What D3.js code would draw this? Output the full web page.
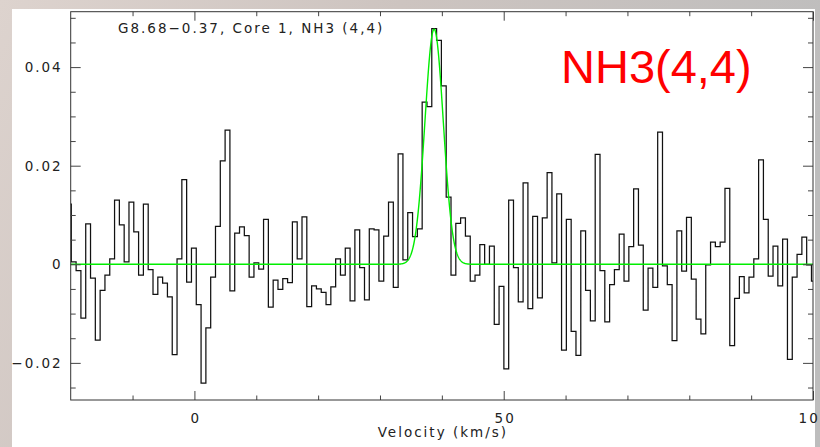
<!DOCTYPE html>
<html>
<head>
<meta charset="utf-8">
<script src="https://cdn.jsdelivr.net/npm/d3@7"></script>
<style>
  html, body { margin: 0; padding: 0; background: #fff; }
  svg { display: block; }
  .tick text { font-family: "DejaVu Sans", sans-serif; font-size: 13.5px; letter-spacing: 2px; fill: #222; }
</style>
</head>
<body>
<svg id="chart" width="820" height="447"></svg>
<script>
// ---- Data ----
const chartTitle = "G8.68\u22120.37, Core 1, NH3 (4,4)";
const lineLabel = "NH3(4,4)";
const xAxisTitle = "Velocity (km/s)";

// Spectrometer channel grid (km/s): left edge of first channel and channel width
const channelStart = -20.68;
const channelWidth = 0.777;

// Brightness per channel (156 channels)
const intensity = [
  0.0122,
  0.0005, -0.0013, -0.0109, 0.0082, -0.0028, -0.0154, -0.0053, -0.0022, 0.0011, 0.0130,
  0.0080, 0.0005, 0.0126, 0.0066, -0.0022, 0.0122, -0.0011, -0.0061, -0.0026, -0.0038,
  -0.0066, -0.0183, 0.0011, 0.0172, -0.0036, 0.0033,
  -0.0082, -0.0241, -0.0129, -0.0026, 0.0077, 0.0210, 0.0272, -0.0054, 0.0063, 0.0076,
  0.0058, -0.0026, 0.0003, -0.0010, 0.0091, -0.0087, -0.0032, -0.0051, -0.0029, -0.0037,
  0.0086, 0.0011, 0.0096, -0.0086, -0.0044, -0.0050,
  -0.0057, -0.0082, -0.0046, 0.0011, -0.0022, 0.0033, -0.0074, 0.0070, -0.0007, -0.0072,
  0.0072, 0.0070, -0.0034, 0.0057, 0.0126, -0.0047, 0.0224, 0.0009, 0.0105, 0.0056,
  0.0072, 0.0329, 0.0320, 0.0478, 0.0454, 0.0362,
  0.0136, -0.0022, 0.0083, 0.0094, 0.0057, -0.0034, -0.0022, 0.0040, 0.0000, 0.0037,
  -0.0122, -0.0045, -0.0212, 0.0130, -0.0007, -0.0076, 0.0165, -0.0090, 0.0097, -0.0068,
  0.0094, 0.0186, 0.0003, 0.0143, -0.0174, 0.0091,
  -0.0136, -0.0185, 0.0068, -0.0053, -0.0115, 0.0223, -0.0013, -0.0117, -0.0041, -0.0011,
  0.0061, -0.0034, 0.0036, 0.0153, 0.0039, -0.0093, -0.0008, -0.0047, 0.0268, -0.0003,
  -0.0041, -0.0155, 0.0068, -0.0014, 0.0095, -0.0030,
  -0.0111, -0.0141, -0.0001, 0.0045, 0.0036, 0.0045, 0.0154, -0.0165, -0.0069, -0.0025,
  -0.0058, -0.0026, 0.0011, 0.0212, 0.0091, -0.0024, 0.0037, -0.0044, 0.0051, -0.0193,
  -0.0026, 0.0020, 0.0055, -0.0001, -0.0034
];

// Gaussian fit: [amplitude, centre velocity (km/s), FWHM (km/s)]
const gaussFit = [0.0477, 38.75, 3.5];

// Axes
const xDomain = [-20, 100];
const yDomain = [-0.02753, 0.05124];
const xMajorTicks = [0, 50, 100];
const xMinorTicks = [-10, 10, 20, 30, 40, 60, 70, 80, 90];
const yMajorTicks = [-0.02, 0, 0.02, 0.04];
const yMinorTicks = [-0.025, -0.015, -0.01, -0.005, 0.005, 0.01, 0.015, 0.025, 0.03, 0.035, 0.045, 0.05];

// ---- Drawing ----
const svg = d3.select("#chart");
const W = 820, H = 447;
const plot = { left: 70.7, right: 813, top: 11.7, bottom: 400 };

// marble-like backdrop and white panel
const defs = svg.append("defs");
const bg = defs.append("linearGradient").attr("id", "bg").attr("x1", 0).attr("x2", 1).attr("y1", 0).attr("y2", 0.3);
bg.append("stop").attr("offset", "0%").attr("stop-color", "#ddd3ce");
bg.append("stop").attr("offset", "45%").attr("stop-color", "#cdc4c0");
bg.append("stop").attr("offset", "100%").attr("stop-color", "#bdbdbd");
svg.append("rect").attr("width", W).attr("height", H).attr("fill", "url(#bg)");
svg.append("rect").attr("x", 12).attr("y", 9).attr("width", 803).attr("height", H - 9).attr("fill", "#fff");

defs.append("clipPath").attr("id", "plotClip").append("rect")
  .attr("x", plot.left).attr("y", plot.top)
  .attr("width", plot.right - plot.left).attr("height", plot.bottom - plot.top);

const x = d3.scaleLinear().domain(xDomain).range([plot.left, plot.right]);
const y = d3.scaleLinear().domain(yDomain).range([plot.bottom, plot.top]);

const spectrum = intensity.map((v, i) => ({ v: channelStart + (i + 0.5) * channelWidth, t: v }));

const g = svg.append("g").attr("clip-path", "url(#plotClip)");

g.append("path")
  .datum(spectrum)
  .attr("fill", "none")
  .attr("stroke", "#111")
  .attr("stroke-width", 1.25)
  .attr("d", d3.line().x(d => x(d.v)).y(d => y(d.t)).curve(d3.curveStep));

const [amp, vc, fwhm] = gaussFit;
const sigma = fwhm / (2 * Math.sqrt(2 * Math.log(2)));
const fitCurve = d3.range(xDomain[0], xDomain[1] + 0.01, 0.05)
  .map(v => ({ v, t: amp * Math.exp(-((v - vc) ** 2) / (2 * sigma * sigma)) }));
g.append("path")
  .datum(fitCurve)
  .attr("fill", "none")
  .attr("stroke", "#00ee00")
  .attr("stroke-width", 1.4)
  .attr("d", d3.line().x(d => x(d.v)).y(d => y(d.t)));

// axes (ticks pointing inward)
const fmtY = d => d === 0 ? "0" : d3.format(".2f")(d);
function addAxis(axis, tx, ty) {
  const a = svg.append("g").attr("transform", `translate(${tx},${ty})`).call(axis);
  a.select(".domain").remove();
  a.selectAll(".tick line").attr("stroke", "#444").attr("stroke-width", 1);
  return a;
}
addAxis(d3.axisLeft(y).tickValues(yMajorTicks).tickSize(-10).tickPadding(8).tickFormat(fmtY), plot.left, 0);
addAxis(d3.axisLeft(y).tickValues(yMinorTicks).tickSize(-5).tickFormat(""), plot.left, 0);
addAxis(d3.axisRight(y).tickValues(yMajorTicks).tickSize(-10).tickFormat(""), plot.right, 0);
addAxis(d3.axisRight(y).tickValues(yMinorTicks).tickSize(-5).tickFormat(""), plot.right, 0);
addAxis(d3.axisBottom(x).tickValues(xMajorTicks).tickSize(-9).tickPadding(13).tickFormat(d3.format("d")), 0, plot.bottom)
  .selectAll("text").attr("dx", "1px");
addAxis(d3.axisBottom(x).tickValues(xMinorTicks).tickSize(-4.5).tickFormat(""), 0, plot.bottom);
addAxis(d3.axisTop(x).tickValues(xMajorTicks).tickSize(-9).tickFormat(""), 0, plot.top);
addAxis(d3.axisTop(x).tickValues(xMinorTicks).tickSize(-4.5).tickFormat(""), 0, plot.top);

svg.append("rect")
  .attr("x", plot.left).attr("y", plot.top)
  .attr("width", plot.right - plot.left).attr("height", plot.bottom - plot.top)
  .attr("fill", "none").attr("stroke", "#333").attr("stroke-width", 1);

// texts
svg.append("text")
  .attr("x", 118).attr("y", 33.3)
  .attr("font-family", "DejaVu Sans, sans-serif").attr("font-size", 13.5)
  .attr("letter-spacing", "2px").attr("fill", "#222")
  .text(chartTitle);

svg.append("text")
  .attr("x", (plot.left + plot.right) / 2 + 1).attr("y", 436.5)
  .attr("text-anchor", "middle")
  .attr("font-family", "DejaVu Sans, sans-serif").attr("font-size", 13.5)
  .attr("letter-spacing", "2px").attr("fill", "#222")
  .text(xAxisTitle);

svg.append("text")
  .attr("x", 561).attr("y", 83)
  .attr("font-family", "Liberation Sans, Arial, sans-serif").attr("font-size", 47)
  .attr("fill", "#ff0000")
  .text(lineLabel);
</script>
</body>
</html>
